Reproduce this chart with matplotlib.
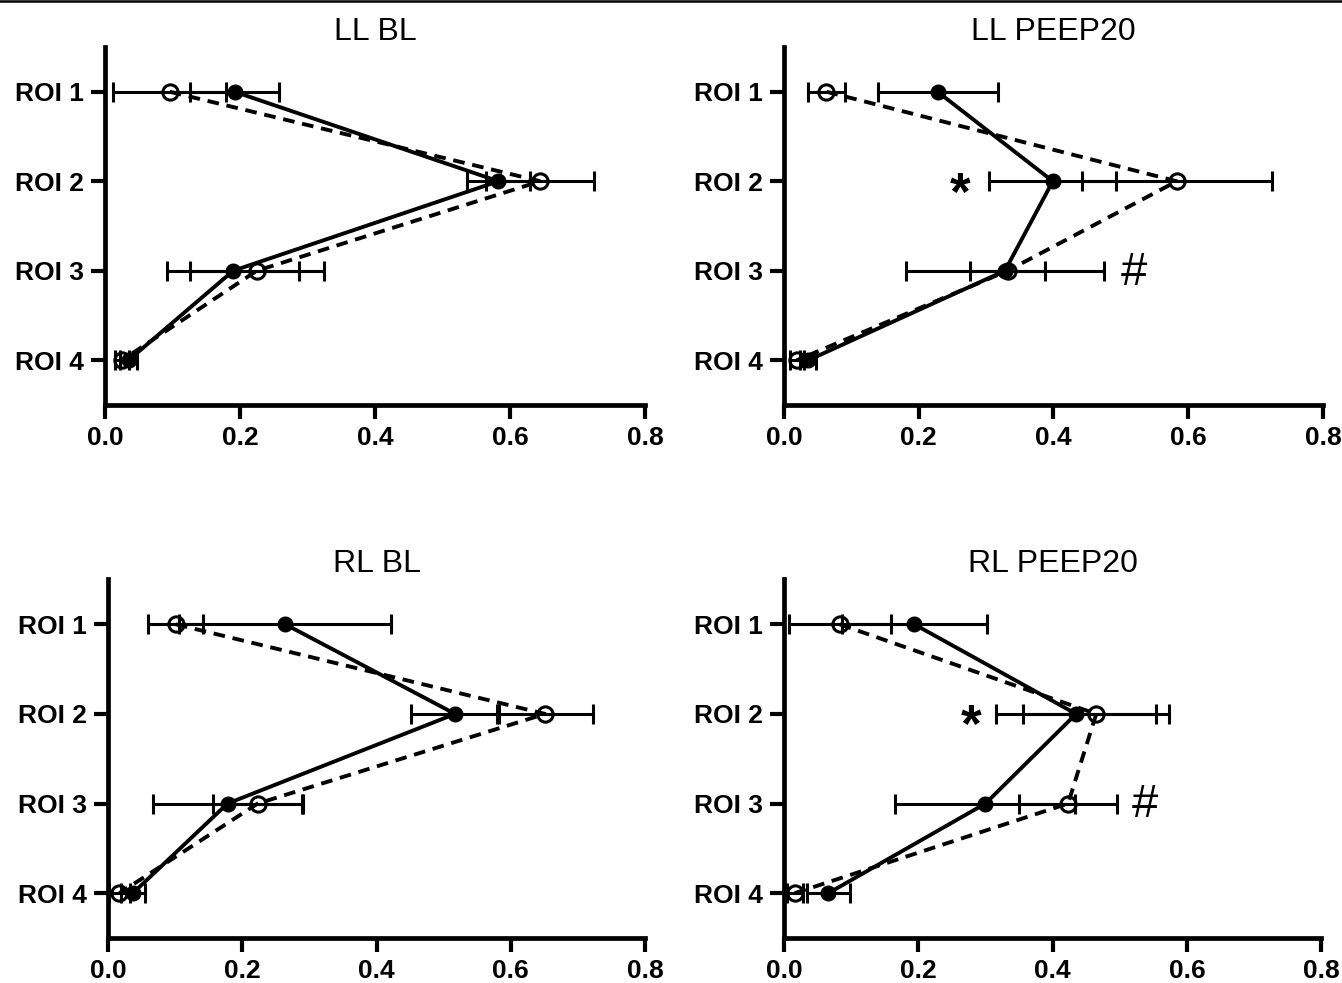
"""Regional ventilation profiles (ROI 1-4), four panels, Prism-like style."""
import matplotlib
matplotlib.use("Agg")
import matplotlib.pyplot as plt
from matplotlib.lines import Line2D

plt.rcParams["font.family"] = ["Liberation Sans", "DejaVu Sans"]

ROIS = ["ROI 1", "ROI 2", "ROI 3", "ROI 4"]
ROI_POS = [1, 2, 3, 4]
X_TICKS = [0.0, 0.2, 0.4, 0.6, 0.8]

# LL BL
ll_bl_filled = [0.192, 0.583, 0.190, 0.035]
ll_bl_filled_err = [0.066, 0.047, 0.098, 0.012]
ll_bl_open = [0.096, 0.645, 0.225, 0.025]
ll_bl_open_err = [0.084, 0.080, 0.099, 0.010]

# LL PEEP20
ll_peep_filled = [0.228, 0.399, 0.328, 0.036]
ll_peep_filled_err = [0.089, 0.094, 0.147, 0.012]
ll_peep_open = [0.063, 0.583, 0.332, 0.019]
ll_peep_open_err = [0.027, 0.141, 0.056, 0.010]

# RL BL
rl_bl_filled = [0.264, 0.517, 0.178, 0.037]
rl_bl_filled_err = [0.158, 0.066, 0.111, 0.018]
rl_bl_open = [0.101, 0.651, 0.223, 0.017]
rl_bl_open_err = [0.041, 0.071, 0.067, 0.015]

# RL PEEP20
rl_peep_filled = [0.194, 0.435, 0.300, 0.066]
rl_peep_filled_err = [0.108, 0.119, 0.134, 0.032]
rl_peep_open = [0.083, 0.465, 0.423, 0.016]
rl_peep_open_err = [0.076, 0.109, 0.073, 0.012]

# significance marks: (symbol, x value, ROI)
ll_peep_marks = [("*", 0.261, 2), ("#", 0.519, 3)]
rl_peep_marks = [("*", 0.279, 2), ("#", 0.537, 3)]

PANELS = [
    ("LL BL", [0.0782, 0.588, 0.4024, 0.3642], ll_bl_filled, ll_bl_filled_err,
     ll_bl_open, ll_bl_open_err, []),
    ("LL PEEP20", [0.5842, 0.588, 0.4016, 0.3642], ll_peep_filled, ll_peep_filled_err,
     ll_peep_open, ll_peep_open_err, ll_peep_marks),
    ("RL BL", [0.0805, 0.0458, 0.4002, 0.3647], rl_bl_filled, rl_bl_filled_err,
     rl_bl_open, rl_bl_open_err, []),
    ("RL PEEP20", [0.5842, 0.0458, 0.4003, 0.3647], rl_peep_filled, rl_peep_filled_err,
     rl_peep_open, rl_peep_open_err, rl_peep_marks),
]


def draw_panel(fig, title, rect, filled, filled_err, open_, open_err, marks):
    ax = fig.add_axes(rect)
    ax.errorbar(open_, ROI_POS, xerr=open_err, color="black", linestyle=(0, (3, 2)),
                linewidth=2.8, marker="o", markersize=11, markerfacecolor="none",
                markeredgewidth=2.2, elinewidth=2.2, capsize=7, capthick=2.2,
                clip_on=False)
    ax.errorbar(filled, ROI_POS, xerr=filled_err, color="black", linestyle="-",
                linewidth=2.8, marker="o", markersize=10.5, elinewidth=2.2,
                capsize=7, capthick=2.2, clip_on=False)

    for sym, xv, roi in marks:
        if sym == "*":
            ax.text(xv, roi + 0.16, sym, fontsize=38, fontweight="bold",
                    ha="center", va="center")
        else:
            ax.text(xv, roi + 0.02, sym, fontsize=34, ha="center", va="center")

    ax.set_xlim(0, 0.8)
    ax.set_ylim(4.5, 0.5)
    ax.set_xticks(X_TICKS)
    ax.set_xticklabels([f"{t:.1f}" for t in X_TICKS], fontweight="bold", fontsize=19)
    ax.set_yticks(ROI_POS)
    ax.set_yticklabels(ROIS, fontweight="bold", fontsize=19)
    ax.tick_params(width=3, length=10, pad=5)
    for side in ("top", "right"):
        ax.spines[side].set_visible(False)
    for side in ("left", "bottom"):
        ax.spines[side].set_linewidth(3.4)
    ax.set_title(title, fontsize=23, pad=4)
    return ax


def main():
    fig = plt.figure(figsize=(13.42, 9.83), dpi=100)
    for title, rect, f, fe, o, oe, marks in PANELS:
        draw_panel(fig, title, rect, f, fe, o, oe, marks)

    # thin rule along the very top of the image
    fig.add_artist(Line2D([0, 1], [0.9988, 0.9988], color="black", linewidth=1.8,
                          transform=fig.transFigure))

    fig.savefig("out.png", dpi=100)
    plt.close(fig)


if __name__ == "__main__":
    main()
